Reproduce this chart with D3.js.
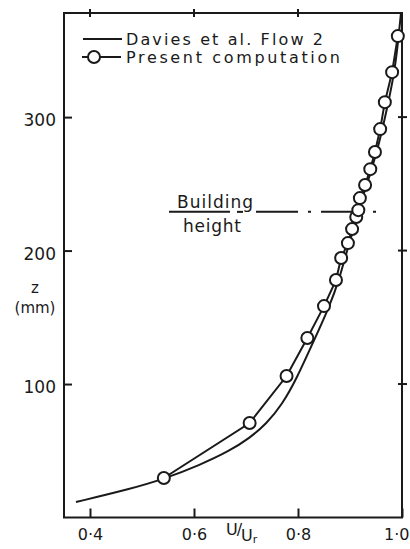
<!DOCTYPE html>
<html>
<head>
<meta charset="utf-8">
<script src="https://cdn.jsdelivr.net/npm/d3@7"></script>
<style>
  html, body { margin: 0; padding: 0; background: #fff; }
  svg { display: block; }
  text { font-family: "DejaVu Sans", sans-serif; fill: #1a1a1a; }
</style>
</head>
<body>
<script>
// ---- data ----
const daviesU = [0.373, 0.477, 0.542, 0.611, 0.668, 0.707, 0.739, 0.770, 0.797, 0.831, 0.860, 0.879, 0.895, 0.910, 0.923, 0.939, 0.956, 0.971, 0.985, 0.992, 0.998];
const daviesZ = [11.6, 21.3, 28.8, 39.3, 49.8, 59.6, 70.0, 85.0, 103.7, 132.9, 157.7, 177.9, 201.1, 219.9, 238.6, 257.3, 280.0, 306.0, 332.2, 354.7, 377.9];
const compU = [0.542, 0.707, 0.778, 0.818, 0.850, 0.873, 0.883, 0.896, 0.904, 0.912, 0.916, 0.919, 0.929, 0.939, 0.948, 0.958, 0.967, 0.981, 0.992];
const compZ = [29.6, 70.8, 106.0, 134.5, 158.4, 177.9, 194.4, 205.6, 216.1, 225.1, 230.3, 239.3, 249.1, 261.0, 273.8, 291.0, 311.2, 333.7, 360.7];
const xTicks = [0.4, 0.6, 0.8, 1.0];
const xTickLabels = ["0·4", "0·6", "0·8", "1·0"];
const yTicks = [100, 200, 300];
const yTickLabels = ["100", "200", "300"];
const seriesNames = ["Davies et al. Flow 2", "Present computation"];
const buildingHeight = 229;
const buildingLabel = ["Building", "height"];

// ---- layout ----
const W = 410, H = 549;
const ink = "#1a1a1a";
const svg = d3.select("body").append("svg").attr("width", W).attr("height", H);
svg.append("rect").attr("width", W).attr("height", H).attr("fill", "#fff");

const x = d3.scaleLinear().domain([0.35, 1.0]).range([64, 402]);
const y = d3.scaleLinear().domain([0, 378]).range([517.5, 13]);

// frame
svg.append("rect")
  .attr("x", x(0.35)).attr("y", y(378))
  .attr("width", x(1.0) - x(0.35)).attr("height", y(0) - y(378))
  .attr("fill", "none").attr("stroke", ink).attr("stroke-width", 2);

// bottom axis (ticks inward)
const xAxis = d3.axisBottom(x).tickValues(xTicks)
  .tickFormat((d, i) => xTickLabels[i]).tickSize(-9).tickPadding(11);
const gx = svg.append("g").attr("transform", `translate(0,${y(0)})`).call(xAxis);
gx.select(".domain").remove();
gx.selectAll(".tick line").attr("stroke", ink).attr("stroke-width", 2);
gx.selectAll(".tick text").attr("font-size", 16).attr("fill", ink)
  .style("font-family", "DejaVu Sans, sans-serif")
  .attr("text-anchor", (d, i) => i === xTicks.length - 1 ? "end" : "middle")
  .attr("dx", (d, i) => i === xTicks.length - 1 ? 7 : 0);

// top ticks crossing the frame
svg.append("g").selectAll("line").data(xTicks.slice(0, 3)).join("line")
  .attr("x1", d => x(d)).attr("x2", d => x(d))
  .attr("y1", y(378) - 4).attr("y2", y(378) + 4)
  .attr("stroke", ink).attr("stroke-width", 2);

// left axis (ticks inward)
const yAxis = d3.axisLeft(y).tickValues(yTicks)
  .tickFormat((d, i) => yTickLabels[i]).tickSize(-8).tickPadding(8);
const gy = svg.append("g").attr("transform", `translate(${x(0.35)},0)`).call(yAxis);
gy.select(".domain").remove();
gy.selectAll(".tick line").attr("stroke", ink).attr("stroke-width", 2);
gy.selectAll(".tick text").attr("font-size", 17).attr("dy", "0.5em").attr("fill", ink)
  .style("font-family", "DejaVu Sans, sans-serif");

// right ticks crossing the frame
svg.append("g").selectAll("line").data(yTicks).join("line")
  .attr("x1", x(1.0) - 4).attr("x2", x(1.0) + 5)
  .attr("y1", d => y(d)).attr("y2", d => y(d))
  .attr("stroke", ink).attr("stroke-width", 2);

// axis titles
svg.append("text").attr("x", 35).attr("y", 293).attr("text-anchor", "middle")
  .attr("font-size", 15).text("z");
svg.append("text").attr("x", 35).attr("y", 313).attr("text-anchor", "middle")
  .attr("font-size", 15).text("(mm)");

const xt = svg.append("text").attr("x", 226).attr("y", 535).attr("font-size", 16);
xt.append("tspan").text("U");
xt.append("tspan").attr("dx", -1).text("/");
xt.append("tspan").attr("dx", -1).attr("dy", 6).text("U");
xt.append("tspan").attr("dy", 2).attr("font-size", 11).text("r");

// building height line
const bh = svg.append("g");
bh.append("line").attr("x1", 169).attr("x2", 230).attr("y1", y(buildingHeight)).attr("y2", y(buildingHeight))
  .attr("stroke", ink).attr("stroke-width", 2);
bh.append("line").attr("x1", 237).attr("x2", 243).attr("y1", y(buildingHeight)).attr("y2", y(buildingHeight))
  .attr("stroke", ink).attr("stroke-width", 2);
bh.append("line").attr("x1", 256).attr("x2", 385).attr("y1", y(buildingHeight)).attr("y2", y(buildingHeight))
  .attr("stroke", ink).attr("stroke-width", 2).attr("stroke-dasharray", "42,10,3,10");
bh.append("text").attr("x", 177).attr("y", 208).attr("font-size", 17)
  .attr("textLength", 76).attr("lengthAdjust", "spacing").text(buildingLabel[0]);
bh.append("text").attr("x", 183).attr("y", 232).attr("font-size", 17)
  .attr("textLength", 58).attr("lengthAdjust", "spacing").text(buildingLabel[1]);

// Davies curve
const davies = daviesU.map((u, i) => [u, daviesZ[i]]);
svg.append("path").datum(davies)
  .attr("d", d3.line().x(d => x(d[0])).y(d => y(d[1])).curve(d3.curveBasis))
  .attr("fill", "none").attr("stroke", ink).attr("stroke-width", 2);

// Present computation
const comp = compU.map((u, i) => [u, compZ[i]]);
svg.append("path").datum(comp)
  .attr("d", d3.line().x(d => x(d[0])).y(d => y(d[1])))
  .attr("fill", "none").attr("stroke", ink).attr("stroke-width", 2);
svg.append("g").selectAll("circle").data(comp).join("circle")
  .attr("cx", d => x(d[0])).attr("cy", d => y(d[1])).attr("r", 6)
  .attr("fill", "#fff").attr("stroke", ink).attr("stroke-width", 2);

// legend
const lg = svg.append("g");
lg.append("line").attr("x1", 83).attr("x2", 122).attr("y1", 39).attr("y2", 39)
  .attr("stroke", ink).attr("stroke-width", 2);
lg.append("text").attr("x", 126).attr("y", 45).attr("font-size", 16)
  .attr("textLength", 197).attr("lengthAdjust", "spacing").text(seriesNames[0]);
lg.append("line").attr("x1", 82).attr("x2", 121).attr("y1", 57).attr("y2", 57)
  .attr("stroke", ink).attr("stroke-width", 2);
lg.append("circle").attr("cx", 94).attr("cy", 57).attr("r", 6)
  .attr("fill", "#fff").attr("stroke", ink).attr("stroke-width", 2);
lg.append("text").attr("x", 126).attr("y", 63).attr("font-size", 16)
  .attr("textLength", 214).attr("lengthAdjust", "spacing").text(seriesNames[1]);
</script>
</body>
</html>
